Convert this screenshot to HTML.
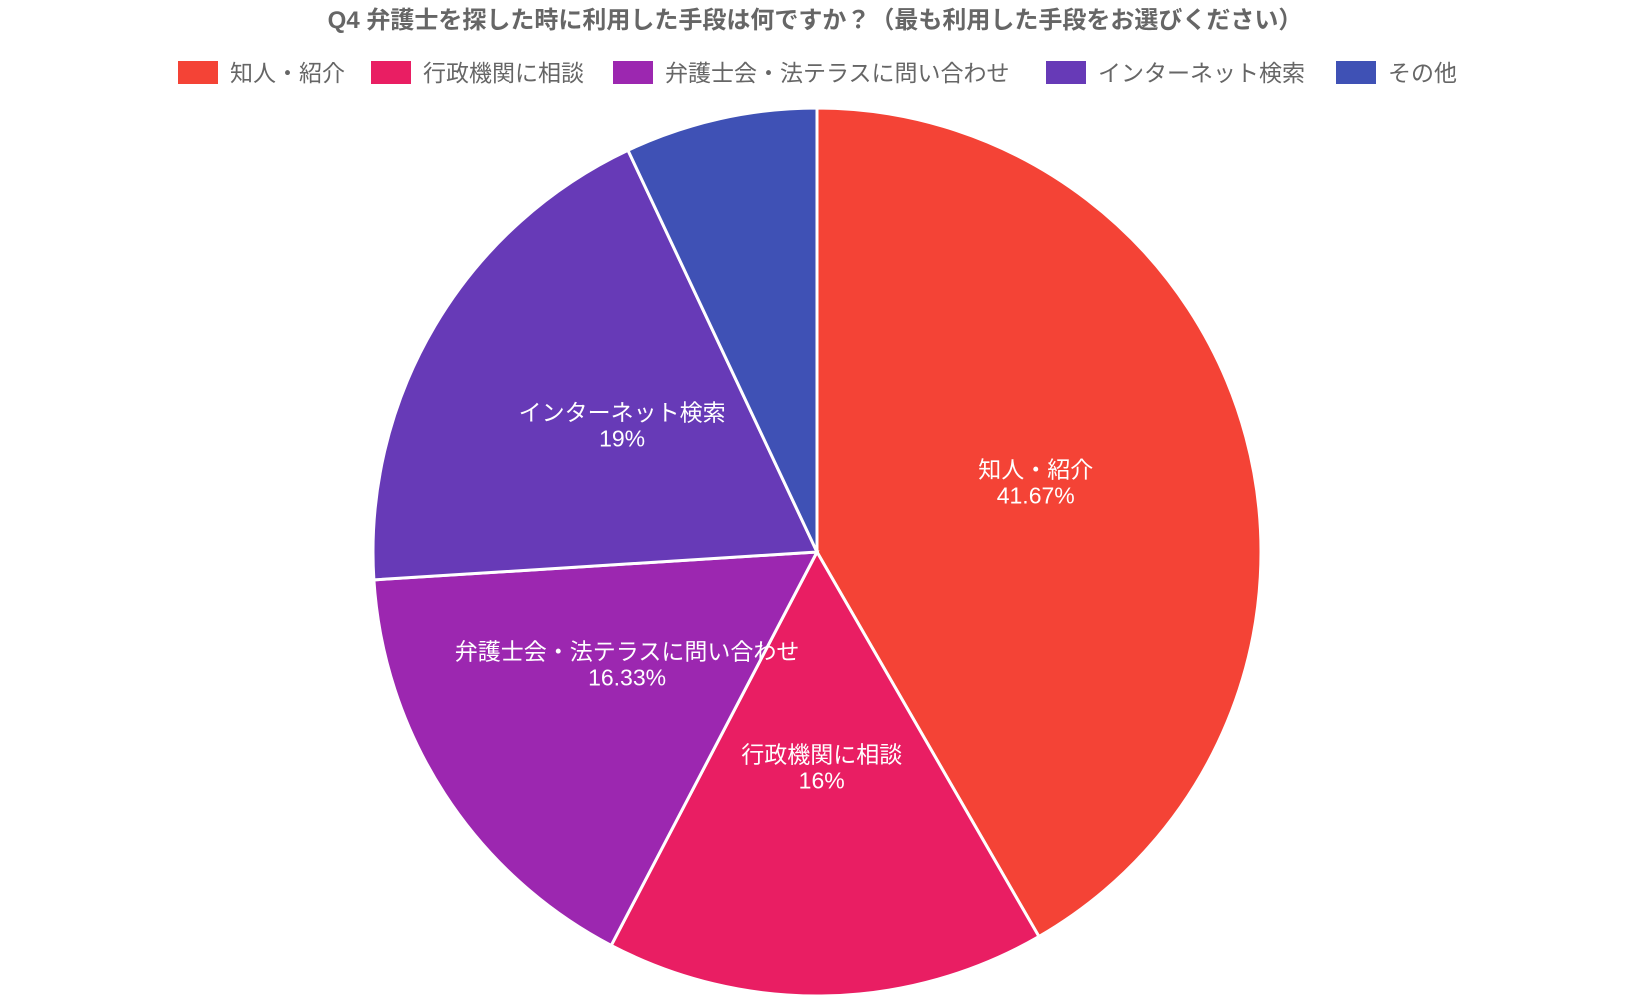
<!DOCTYPE html>
<html><head><meta charset="utf-8"><style>
html,body{margin:0;padding:0;background:#fff;width:1630px;height:1000px;overflow:hidden}
svg{display:block}
text{font-family:"Liberation Sans","Noto Sans CJK JP",sans-serif}
</style></head><body>
<svg id="chart" width="1630" height="1000">
<text x="815" y="28" text-anchor="middle" font-size="24" font-weight="bold" fill="#666">Q4 弁護士を探した時に利用した手段は何ですか？（最も利用した手段をお選びください）</text>
<g id="legend"></g>
<g id="slices"></g>
<g id="labels"></g>
</svg>
<script>
const categories=["知人・紹介","行政機関に相談","弁護士会・法テラスに問い合わせ","インターネット検索","その他"];
const values=[41.67,16,16.33,19,7];
const labelTexts=["41.67%","16%","16.33%","19%","7%"];
const colors=["#F44336","#E91E63","#9C27B0","#673AB7","#3F51B5"];
const NS="http://www.w3.org/2000/svg";
const cx=817,cy=552,R=444;
const total=values.reduce((a,b)=>a+b,0);
function pt(a,r){return [cx+r*Math.sin(a),cy-r*Math.cos(a)];}
const sl=document.getElementById('slices'),lb=document.getElementById('labels'),lg=document.getElementById('legend');
let a0=0;
values.forEach((v,i)=>{
  const a1=a0+v/total*2*Math.PI;
  const p0=pt(a0,R),p1=pt(a1,R);
  const large=(a1-a0)>Math.PI?1:0;
  const p=document.createElementNS(NS,'path');
  p.setAttribute('d',`M${cx},${cy}L${p0[0]},${p0[1]}A${R},${R} 0 ${large} 1 ${p1[0]},${p1[1]}Z`);
  p.setAttribute('fill',colors[i]);p.setAttribute('stroke','#fff');p.setAttribute('stroke-width','3');
  
  
  sl.appendChild(p);
  const m=(a0+a1)/2,c=pt(m,R*0.51);
  if(v>=10){
  const t=document.createElementNS(NS,'text');
  t.setAttribute('x',c[0]);t.setAttribute('y',c[1]-16);t.setAttribute('text-anchor','middle');
  t.setAttribute('font-size','23');t.setAttribute('fill','#fff');
  t.textContent=categories[i];
  
  
  lb.appendChild(t);
  const t2=document.createElementNS(NS,'text');
  t2.setAttribute('x',c[0]);t2.setAttribute('y',c[1]+10);t2.setAttribute('text-anchor','middle');
  t2.setAttribute('font-size','23');t2.setAttribute('fill','#fff');
  t2.textContent=labelTexts[i];
  
  
  lb.appendChild(t2);
  }
  a0=a1;
});
const lgX=[178,371,613,1046,1336];
categories.forEach((c,i)=>{
  const g=document.createElementNS(NS,'g');
  
  
  const r=document.createElementNS(NS,'rect');
  r.setAttribute('x',lgX[i]);r.setAttribute('y',61);r.setAttribute('width',40);r.setAttribute('height',23);
  r.setAttribute('fill',colors[i]);
  g.appendChild(r);
  const t=document.createElementNS(NS,'text');
  t.setAttribute('x',lgX[i]+52);t.setAttribute('y',81);t.setAttribute('font-size','23');t.setAttribute('fill','#666');
  t.textContent=c;
  g.appendChild(t);
  lg.appendChild(g);
});
</script>
</body></html>
